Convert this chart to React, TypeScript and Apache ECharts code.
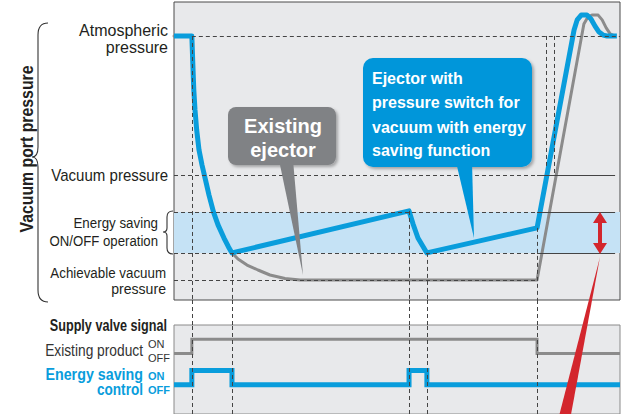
import React, { useEffect, useRef } from "react";
import * as echarts from "echarts";

// ---- Data (time 0..100, pressure level 0..100) ----
const dropTime = [4.0, 4.19, 4.44, 4.71, 5.09, 5.61, 6.28, 7.06, 7.85, 8.86, 9.87, 11.21, 12.22, 13.0];
const dropPressure = [88.6, 80.5, 70.5, 63.8, 57.0, 50.3, 45.3, 40.3, 35.2, 29.5, 25.2, 20.8, 17.8, 15.8];

const blueTime = [0, ...dropTime, 52.7, 53.6, 54.7, 56.7, 81.4, 89.7, 90.4, 91.3, 92.6, 93.5, 94.4, 95.3, 96.2, 97.1, 99.3];
const bluePressure = [88.6, ...dropPressure, 29.9, 25.5, 20.8, 15.8, 24.2, 90.6, 94.0, 95.6, 95.6, 94.3, 91.9, 89.9, 88.9, 88.6, 88.6];

const grayTime = [0, ...dropTime, 14.35, 16.37, 18.83, 21.52, 24.89, 28.25, 81.4, 91.9, 92.8, 93.7, 95.1, 96.0, 96.9, 97.8, 98.4];
const grayPressure = [88.6, ...dropPressure, 13.76, 11.74, 10.07, 8.39, 7.21, 6.71, 6.71, 92.6, 95.0, 95.6, 95.6, 94.0, 91.3, 89.3, 88.9];

// reference pressure levels
const atmospheric = 88.6;
const vacuumPressure = 41.9;
const bandTop = 29.5;
const bandBottom = 15.8;
const achievable = 6.7;
const solidFrom = 81.4;
const solidTo = 98.9;

// event times (vertical dashed lines) and where they start in the top panel
const eventTimes = [4.0, 13.0, 52.7, 56.7, 81.4];
const eventTops = [88.6, 15.8, 29.9, 15.8, 24.2];
const breakTimes = [83.4, 85.2];
const breakBottoms = [45.0, 41.9];

// supply valve signals (level 0..10)
const existingTime = [0, 4.0, 4.0, 81.4, 81.4, 100];
const existingLevel = [6.8, 6.8, 8.4, 8.4, 6.8, 6.8];
const savingTime = [0, 4.0, 4.0, 13.0, 13.0, 52.7, 52.7, 56.7, 56.7, 100];
const savingLevel = [3.3, 3.3, 4.9, 4.9, 3.3, 3.3, 4.9, 4.9, 3.3, 3.3];

const pairs = (xs: number[], ys: number[]) => xs.map((x, i) => [x, ys[i]]);

const BLUE = "#099ddc";
const GRAY = "#8b8b8b";
const DASH = { type: [4, 3] as any, color: "#444", width: 1 };
const SOLID = { type: "solid" as any, color: "#444", width: 1 };
const FONT = "Liberation Sans";

let registered = false;
function registerShapes() {
  if (registered) return;
  registered = true;
  echarts.graphic.registerShape(
    "bigBrace",
    echarts.graphic.extendPath(
      "M48,23 C41,23 38,27 38,35 L38,147 C38,153 36,157 32,157 C36,157 38,161 38,167 L38,290 C38,298 41,302 48,302",
      {}
    ) as any
  );
  echarts.graphic.registerShape(
    "smallBrace",
    echarts.graphic.extendPath(
      "M173,211 C169,211 167,213 167,217 L167,228 C167,231 166,232 163,232 C166,232 167,233 167,236 L167,248 C167,252 169,254 173,254",
      {}
    ) as any
  );
}

function label(text: string, x: number, y: number, size: number, scaleX: number, opts: any = {}) {
  return {
    type: "text",
    x,
    y,
    scaleX,
    z: 100,
    style: {
      text,
      fill: opts.fill || "#231f20",
      fontSize: size,
      fontWeight: opts.bold ? "bold" : "normal",
      fontFamily: FONT,
      textAlign: opts.align || "right",
      textVerticalAlign: "middle",
    },
  };
}

export default function App() {
  const ref = useRef<HTMLDivElement>(null);
  useEffect(() => {
    document.body.style.margin = "0";
    registerShapes();
    const chart = echarts.init(ref.current!, null, { renderer: "svg" });

    const topVerticals = eventTimes.map((t, i) => [{ coord: [t, eventTops[i]] }, { coord: [t, 0] }]);
    const breakVerticals = breakTimes.map((t, i) => [{ coord: [t, atmospheric] }, { coord: [t, breakBottoms[i]] }]);
    const hDashed = [
      [{ coord: [eventTimes[0], atmospheric] }, { coord: [100, atmospheric] }],
      [{ coord: [0, vacuumPressure] }, { coord: [solidFrom, vacuumPressure] }],
      [{ coord: [0, bandTop] }, { coord: [solidFrom, bandTop] }],
      [{ coord: [0, bandBottom] }, { coord: [solidFrom, bandBottom] }],
      [{ coord: [0, achievable] }, { coord: [solidFrom, achievable] }],
    ];
    const hSolid = [vacuumPressure, bandTop, bandBottom].map((v) => [
      { coord: [solidFrom, v], lineStyle: SOLID },
      { coord: [solidTo, v] },
    ]);

    const option: any = {
      animation: false,
      grid: [
        { left: 174, top: 2, width: 446, height: 298, show: true, backgroundColor: "#e8e9eb", borderColor: "#4a4a4a", borderWidth: 1 },
        { left: 174, top: 300, width: 446, height: 25, show: false },
        { left: 174, top: 325, width: 446, height: 94, show: true, backgroundColor: "#e8e9eb", borderColor: "#8a8a8a", borderWidth: 1 },
      ],
      xAxis: [0, 1, 2].map((g) => ({ type: "value", gridIndex: g, min: 0, max: 100, show: false })),
      yAxis: [
        { type: "value", gridIndex: 0, min: 0, max: 100, show: false },
        { type: "value", gridIndex: 1, min: 0, max: 1, show: false },
        { type: "value", gridIndex: 2, min: 0, max: 10, show: false },
      ],
      series: [
        {
          type: "line",
          name: "band",
          xAxisIndex: 0,
          yAxisIndex: 0,
          data: [],
          z: 1,
          silent: true,
          markArea: {
            silent: true,
            itemStyle: { color: "#c5e2f5" },
            data: [[{ coord: [0, bandTop] }, { coord: [100, bandBottom] }]],
          },
        },
        {
          type: "line",
          name: "refs",
          xAxisIndex: 0,
          yAxisIndex: 0,
          data: [],
          z: 2,
          silent: true,
          markLine: {
            silent: true,
            symbol: ["none", "none"],
            label: { show: false },
            lineStyle: DASH,
            data: [...hDashed, ...hSolid, ...topVerticals, ...breakVerticals],
          },
        },
        {
          type: "line",
          name: "Existing ejector",
          xAxisIndex: 0,
          yAxisIndex: 0,
          data: pairs(grayTime, grayPressure),
          showSymbol: false,
          z: 3,
          lineStyle: { color: GRAY, width: 3, join: "round", cap: "round" },
        },
        {
          type: "line",
          name: "Energy saving ejector",
          xAxisIndex: 0,
          yAxisIndex: 0,
          data: pairs(blueTime, bluePressure),
          showSymbol: false,
          z: 4,
          lineStyle: { color: BLUE, width: 5, join: "round", cap: "butt" },
        },
        {
          type: "line",
          name: "gap",
          xAxisIndex: 1,
          yAxisIndex: 1,
          data: [],
          silent: true,
          markLine: {
            silent: true,
            symbol: ["none", "none"],
            label: { show: false },
            lineStyle: DASH,
            data: eventTimes.map((t) => [{ coord: [t, 0] }, { coord: [t, 1] }]),
          },
        },
        {
          type: "line",
          name: "signal refs",
          xAxisIndex: 2,
          yAxisIndex: 2,
          data: [],
          silent: true,
          z: 2,
          markLine: {
            silent: true,
            symbol: ["none", "none"],
            label: { show: false },
            lineStyle: DASH,
            data: eventTimes.map((t) => [{ coord: [t, 0] }, { coord: [t, 10] }]),
          },
        },
        {
          type: "line",
          name: "Existing product",
          xAxisIndex: 2,
          yAxisIndex: 2,
          data: pairs(existingTime, existingLevel),
          showSymbol: false,
          z: 3,
          lineStyle: { color: GRAY, width: 3, join: "miter" },
        },
        {
          type: "line",
          name: "Energy saving control",
          xAxisIndex: 2,
          yAxisIndex: 2,
          data: pairs(savingTime, savingLevel),
          showSymbol: false,
          z: 4,
          lineStyle: { color: BLUE, width: 5, join: "miter" },
        },
      ],
      graphic: [
        {
          type: "text",
          x: 27,
          y: 149,
          rotation: Math.PI / 2,
          scaleX: 0.88,
          z: 100,
          style: {
            text: "Vacuum port pressure",
            fill: "#231f20",
            fontSize: 18,
            fontWeight: "bold",
            fontFamily: FONT,
            textAlign: "center",
            textVerticalAlign: "middle",
          },
        },
        { type: "bigBrace", z: 100, style: { fill: "none", stroke: "#333", lineWidth: 1.1 } },
        { type: "smallBrace", z: 100, style: { fill: "none", stroke: "#333", lineWidth: 1.1 } },
        label("Atmospheric", 168, 30, 16, 1.0),
        label("pressure", 168, 47, 16, 1.0),
        label("Vacuum pressure", 168, 175, 16, 0.94),
        label("Energy saving", 158, 223, 15, 0.89),
        label("ON/OFF operation", 158, 241, 15, 0.88),
        label("Achievable vacuum", 166, 273, 15, 0.89),
        label("pressure", 166, 289, 15, 0.94),
        label("Supply valve signal", 167, 325, 16, 0.79, { bold: true }),
        label("Existing product", 143, 350, 17, 0.81, { fill: "#333" }),
        label("ON", 148, 344, 11, 1, { align: "left", fill: "#333" }),
        label("OFF", 148, 358, 11, 1, { align: "left", fill: "#333" }),
        label("Energy saving", 143, 374, 17, 0.84, { bold: true, fill: BLUE }),
        label("control", 143, 389, 17, 0.8, { bold: true, fill: BLUE }),
        label("ON", 148, 376, 11, 1, { align: "left", bold: true, fill: BLUE }),
        label("OFF", 148, 390, 11, 1, { align: "left", bold: true, fill: BLUE }),
        {
          type: "rect",
          z: 100,
          shape: { x: 228, y: 107, width: 108, height: 58, r: 8 },
          style: { fill: "#808285", shadowBlur: 3, shadowOffsetX: 2, shadowOffsetY: 2, shadowColor: "rgba(0,0,0,0.3)" },
        },
        { type: "polygon", z: 100, shape: { points: [[279, 160], [293, 160], [303, 275]] }, style: { fill: "#808285" } },
        label("Existing", 283, 126, 20, 1, { bold: true, fill: "#fff", align: "center" }),
        label("ejector", 283, 150, 20, 1, { bold: true, fill: "#fff", align: "center" }),
        {
          type: "rect",
          z: 100,
          shape: { x: 363, y: 58, width: 169, height: 109, r: 10 },
          style: { fill: "#0096da", shadowBlur: 3, shadowOffsetX: 2, shadowOffsetY: 2, shadowColor: "rgba(0,0,0,0.3)" },
        },
        { type: "polygon", z: 100, shape: { points: [[456, 162], [472, 162], [474, 238]] }, style: { fill: "#0096da" } },
        label("Ejector with", 372, 78, 16, 1, { bold: true, fill: "#fff", align: "left" }),
        label("pressure switch for", 372, 102, 16, 1, { bold: true, fill: "#fff", align: "left" }),
        label("vacuum with energy", 372, 127, 16, 1, { bold: true, fill: "#fff", align: "left" }),
        label("saving function", 372, 150, 16, 1, { bold: true, fill: "#fff", align: "left" }),
        {
          type: "polygon",
          z: 100,
          shape: {
            points: [[600, 212], [607, 223], [602, 223], [602, 243], [607, 243], [600, 254], [593, 243], [598, 243], [598, 223], [593, 223]],
          },
          style: { fill: "#d3262d" },
        },
        { type: "polygon", z: 100, shape: { points: [[600, 257], [570, 420], [558, 420]] }, style: { fill: "#d3262d" } },
      ],
    };
    chart.setOption(option);
    return () => chart.dispose();
  }, []);
  return <div ref={ref} style={{ width: 627, height: 414 }} />;
}
